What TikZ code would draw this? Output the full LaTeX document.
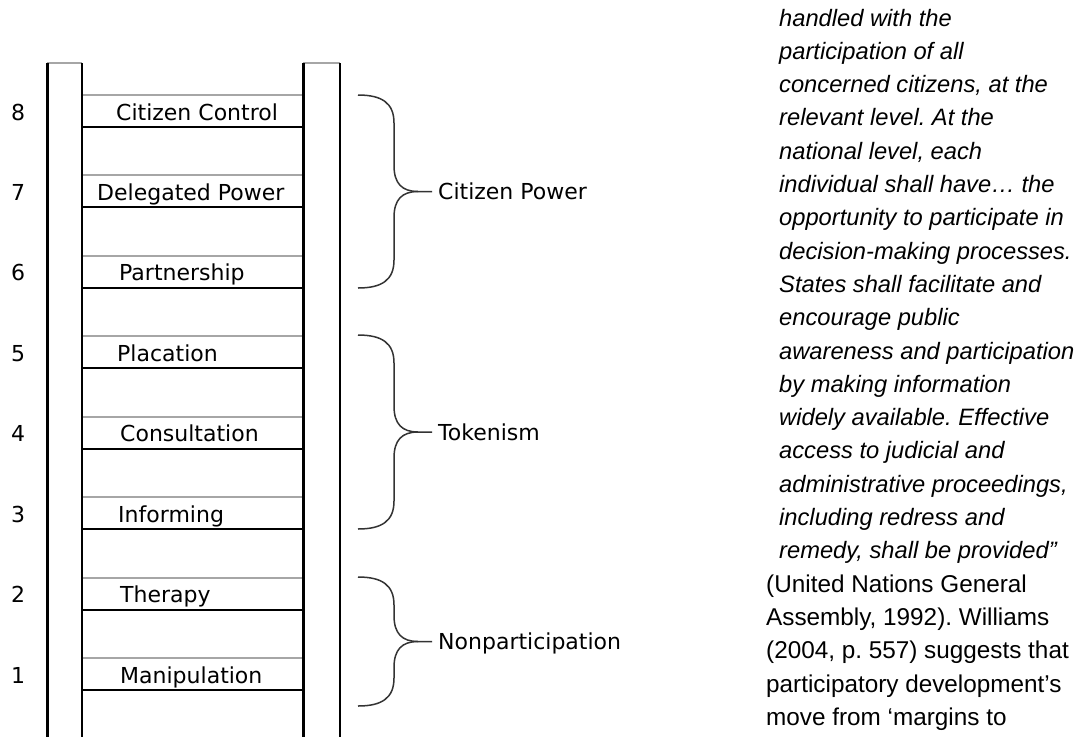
\documentclass[tikz,border=0pt]{standalone}
\usepackage{fontspec}
\setmainfont{Liberation Sans}
\newfontfamily\ladderfont{DejaVu Sans}
\frenchspacing

\begin{document}
\begin{tikzpicture}[x=1pt, y=-1pt,
      railside/.style = {draw=black, line width=1.5pt},
      railedge/.style = {draw=black, line width=3pt},
      railtop/.style  = {draw=gray!70, line width=2pt},
      rungtop/.style  = {draw=gray!70, line width=2pt},
      rungbot/.style  = {draw=black, line width=2pt},
      lbl/.style      = {font=\ladderfont\fontsize{22}{26}\selectfont, anchor=base west, inner sep=0pt},
      brc/.style      = {draw=black!80, line width=1.5pt},
      quote/.style    = {font=\fontsize{23.7}{33.3}\selectfont\itshape, anchor=base west, align=left, inner sep=0pt},
      cite/.style     = {quote, font=\fontsize{24.3}{33.3}\selectfont\upshape}]
    \useasboundingbox (0,0) rectangle (1081,737);
    % the two rails, thick edge on the left of each
    \draw[railtop]  (47,63) -- (82,63);
    \draw[railedge] (47,63) -- (47,737);
    \draw[railside] (82,63) -- (82,737);
    \draw[railtop]  (303,63) -- (340,63);
    \draw[railedge] (303,63) -- (303,737);
    \draw[railside] (340,63) -- (340,737);
    % rungs with their labels and numbers
    \foreach \k/\txt/\x in {8/Citizen Control/116, 7/Delegated Power/97, 6/Partnership/119,
                            5/Placation/117, 4/Consultation/120, 3/Informing/118,
                            2/Therapy/120, 1/Manipulation/120} {
      \pgfmathsetmacro\t{95+(8-\k)*80.43}
      \draw[rungtop] (83,\t) -- (302,\t);
      \draw[rungbot] (83,\t+32) -- (302,\t+32);
      \node[lbl] (rung\k) at (\x,\t+25) {\txt};
      \node[lbl] (num\k)  at (11,\t+25) {\k};
    }
    % braces grouping the rungs
    \foreach \top/\bot/\nm/\txt in {95/288/power/Citizen Power, 335/529/token/Tokenism,
                                   577/706/nonp/Nonparticipation} {
      \pgfmathsetmacro\mid{(\top+\bot)/2}
      \draw[brc] (358,\top) .. controls (382,\top) and (394,\top+8) .. (394,\top+28)
                 -- (394,\mid-26) .. controls (394,\mid-8) and (402,\mid) .. (418,\mid)
                 -- (432,\mid);
      \draw[brc] (358,\bot) .. controls (382,\bot) and (394,\bot-8) .. (394,\bot-28)
                 -- (394,\mid+26) .. controls (394,\mid+8) and (402,\mid) .. (418,\mid);
      \node[lbl] (\nm) at (438,\mid+8) {\txt};
    }
    % running text of the page beside the figure (base = last line)
    \node[quote] (quoted) at (779,558.8) {handled with the\\
      participation of all\\
      concerned citizens, at the\\
      relevant level. At the\\
      national level, each\\
      individual shall have… the\\
      opportunity to participate in\\
      decision-making processes.\\
      States shall facilitate and\\
      encourage public\\
      awareness and participation\\
      by making information\\
      widely available. Effective\\
      access to judicial and\\
      administrative proceedings,\\
      including redress and\\
      remedy, shall be provided”};
    \node[cite] (source) at (766,725.3) {(United Nations General\\
      Assembly, 1992). Williams\\
      (2004, p. 557) suggests that\\
      participatory development’s\\
      move from ‘margins to};
  \end{tikzpicture}
\end{document}
